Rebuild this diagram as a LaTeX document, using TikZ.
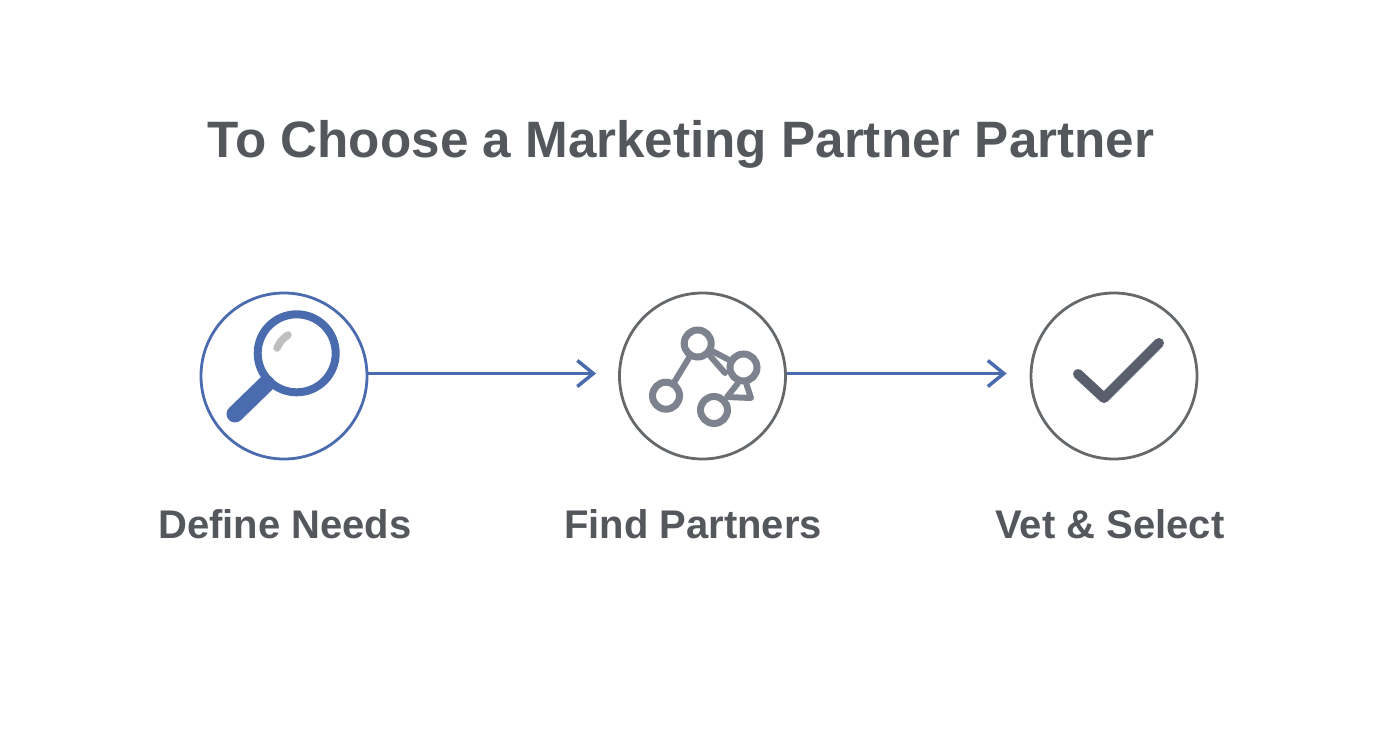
\documentclass[tikz,border=0pt]{standalone}
\usepackage{fontspec}
\setmainfont{Liberation Sans}
\usepackage{tikz}
\usetikzlibrary{arrows.meta}
\definecolor{blueline}{HTML}{4A6BAE}
\definecolor{greyline}{HTML}{66696C}
\definecolor{greyicon}{HTML}{7C828E}
\definecolor{greycheck}{HTML}{5A5F6E}
\definecolor{greytext}{HTML}{54585C}
\tikzset{
  step circle/.style={circle,draw=greyline,line width=2.8pt,minimum size=166pt,inner sep=0pt},
  link node/.style={circle,draw=greyicon,line width=7pt,minimum size=27pt,inner sep=0pt},
  link/.style={draw=greyicon,line width=6pt,line cap=round},
  step label/.style={text=greytext,font=\fontsize{40}{40}\selectfont\bfseries,inner sep=0pt}
}

\begin{document}
\begin{tikzpicture}[x=1pt,y=-1pt,>={Straight Barb[length=16pt,width=26pt,line width=3.5pt]},
                    node distance=418.5pt]
  \useasboundingbox (0,0) rectangle (1392,752);

  \node[text=greytext,font=\fontsize{51.2}{52}\selectfont\bfseries,inner sep=0pt] (title) at (681,144) {To Choose a Marketing Partner Partner};

  \node[step circle,draw=blueline]   (c0) at (284,376) {};
  \node[step circle]                 (c1) [right of=c0] {};
  \node[step circle]                 (c2) [right of=c1,node distance=411.5pt] {};

  \node[step label] (l0) at (285,524) {Define Needs};
  \node[step label] (l1) at (693,524) {Find Partners};
  \node[step label] (l2) at (1110,524) {Vet \& Select};

  % arrows between the circles
  \draw[->,blueline,line width=3.5pt,shorten >=22pt] ([yshift=2.5pt]c0.east) -- ([yshift=2.5pt]c1.west);
  \draw[->,blueline,line width=3.5pt,shorten >=23pt] ([yshift=2.5pt]c1.east) -- ([yshift=2.5pt]c2.west);

  % magnifier
  \node[circle,draw=blueline,line width=8pt,minimum size=78pt,inner sep=0pt] (lens) at (296.7,353.3) {};
  \coordinate (grip) at (235,414);
  \draw[blueline,line width=17pt,line cap=round] (grip) -- (lens.225);
  \coordinate (shine0) at (277,348);
  \coordinate (shine1) at (288,335);
  \draw[black!25,line width=7.5pt,line cap=round] (shine0) to[bend left=15] (shine1);

  % partner network
  \node[link node] (n0) at (697.7,343.5) {};
  \node[link node] (n1) at (743.5,367.5) {};
  \node[link node] (n2) at (666,395.7) {};
  \node[link node] (n3) at (714,410) {};
  \coordinate (stub) at (725,373);
  \coordinate (q0) at (727,397);
  \coordinate (q1) at (751,398);
  \draw[link] (n0) -- (n2);
  \draw[link] (n0) -- (n1);
  \draw[link] (n0.-45) -- (stub);
  \draw[link,line join=round] (n1.-110) -- (q0) -- (q1) -- (n1.-80);

  % check mark
  \coordinate (k0) at (1078,374);
  \coordinate (k1) at (1104,398);
  \coordinate (k2) at (1159,343);
  \draw[greycheck,line width=10pt,line cap=round,line join=round] (k0) -- (k1) -- (k2);
\end{tikzpicture}
\end{document}
